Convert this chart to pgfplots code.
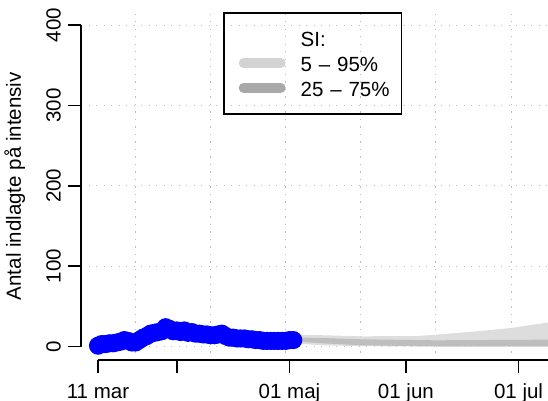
\documentclass[border=0pt]{standalone}
\usepackage{fontspec}
\setmainfont{Liberation Sans}
\usepackage{pgfplots}
\pgfplotsset{compat=1.18}
\definecolor{bandlight}{RGB}{221,221,221}
\definecolor{banddark}{RGB}{190,190,190}
\definecolor{leglight}{RGB}{211,211,211}
\definecolor{legdark}{RGB}{169,169,169}
\definecolor{gridgray}{RGB}{190,190,190}
\begin{document}
\fontsize{20.5}{24}\selectfont
\begin{tikzpicture}
\useasboundingbox (0,0) rectangle (548pt,400pt);
\begin{axis}[
  at={(98pt,53.5pt)}, anchor=origin,
  x=3.755pt, y=0.8035pt,
  xmin=-4.5, xmax=125, ymin=-16.8, ymax=416,
  clip=false,
  axis x line*=bottom, axis y line*=left,
  axis line style={draw=none},
  tick align=outside,
  major tick length=12.7pt,
  tick style={black, line width=1.4pt},
  xtick={0,21,51,82,112},
  xticklabels={11 mar,,01 maj,01 jun,01 jul},
  ytick={0,100,200,300,400},
  yticklabels={0,100,200,300,400},
  minor xtick={10,30,50,70,90,110},
  minor tick length=0pt,
  xminorgrids=true, ymajorgrids=true,
  grid style={gridgray, line width=1pt, dash pattern=on 1.2pt off 6.3pt},
  xticklabel style={anchor=base, inner sep=0pt, yshift=-25.5pt, font=\fontsize{20.5}{24}\selectfont},
  yticklabel style={xshift=-7.8pt, rotate=90, anchor=base, inner sep=0pt, font=\fontsize{20.5}{24}\selectfont},
  ylabel={Antal indlagte på intensiv},
  every axis y label/.style={at={(rel axis cs:0,0.5)}, xshift=-60.3pt, rotate=90, anchor=base, inner sep=0pt, font=\fontsize{20.5}{24}\selectfont},
  legend style={at={(axis cs:33.42,415.9)}, anchor=north west, draw=black, line width=1.4pt, fill=none,
    inner xsep=10pt, inner ysep=10.7pt, column sep=0pt, row sep=0pt,
    cells={anchor=base west},
    nodes={inner sep=2pt, text height=15.5pt, text depth=5.2pt, text width=89pt, font=\fontsize{20.5}{24}\selectfont}},
]
% 5-95% band
\addplot[fill=bandlight, draw=none, forget plot] coordinates {
 (51,15) (55,14.5) (60,14) (70,12.7) (85,13) (90,14.7) (100,18.5) (110,23) (120,30) (125,34)
 (125,0) (120,0) (110,0) (100,0) (90,0) (85,0) (70,0.5) (60,1.5) (55,3) (51,5)
} -- cycle;
% 25-75% band
\addplot[fill=banddark, draw=none, forget plot] coordinates {
 (51,11.5) (55,11) (60,10.5) (70,9) (85,8) (90,7.7) (100,8) (110,8.3) (120,8.5) (125,8.7)
 (125,0.3) (120,0.3) (110,0.3) (100,0.3) (90,0.3) (85,0.5) (70,1.5) (60,4) (55,5.5) (51,7)
} -- cycle;
% observed
\addplot[blue, line width=6pt, mark=*, mark size=6pt, mark options={draw=none, fill=blue}, forget plot] coordinates {
 (0,1) (1,3) (2,3) (3,4) (4,4) (5,5) (6,6) (7,8) (8,7) (9,5) (10,5) (11,8) (12,11) (13,13)
 (14,16) (15,17) (16,18) (17,19) (18,24) (19,22) (20,19) (21,20) (22,18) (23,20) (24,17)
 (25,18) (26,16) (27,16) (28,15) (29,15) (30,14) (31,14) (32,15) (33,16) (34,13) (35,11)
 (36,11) (37,10) (38,10) (39,10) (40,9) (41,9) (42,8) (43,8) (44,7) (45,7) (46,7) (47,7)
 (48,7) (49,7) (50,7) (51,8) (52,8)
};
\addlegendimage{empty legend}
\addlegendentry[text height=21pt]{SI:}
\addlegendimage{legend image code/.code={\path[draw=none, fill=none] (0pt,0pt) rectangle (64.5pt,10pt); \draw[leglight, line width=10pt, line cap=round] (9.5pt,8.4pt) -- (46.5pt,8.4pt);}}
\addlegendentry{5 -- 95\%}
\addlegendimage{legend image code/.code={\path[draw=none, fill=none] (0pt,0pt) rectangle (64.5pt,10pt); \draw[legdark, line width=10pt, line cap=round] (9.5pt,8.4pt) -- (46.5pt,8.4pt);}}
\addlegendentry{25 -- 75\%}
% R-style axis lines
\draw[black, line width=1.4pt] (axis cs:-4.5,0) -- (axis cs:-4.5,400);
\draw[black, line width=1.4pt] (axis cs:0,-16.8) -- (axis cs:140,-16.8);
\end{axis}
\end{tikzpicture}
\end{document}
